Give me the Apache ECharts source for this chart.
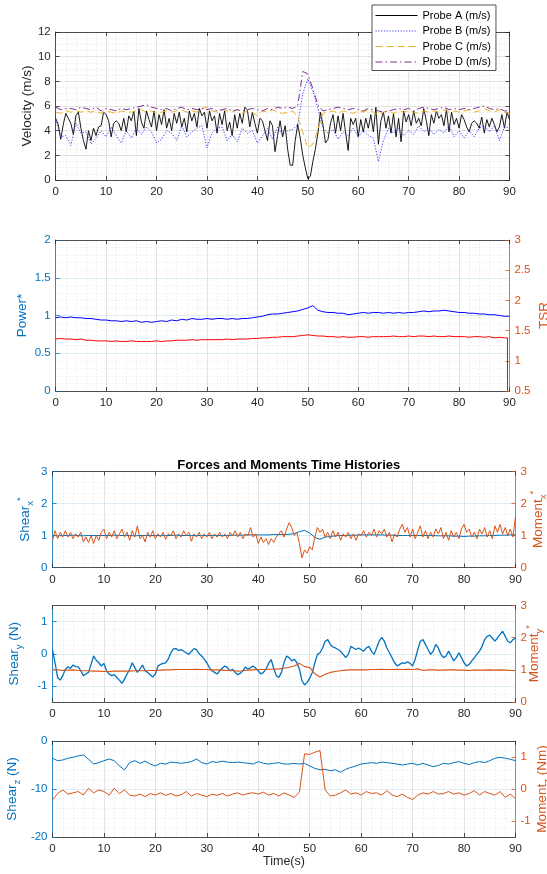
<!DOCTYPE html>
<html><head><meta charset="utf-8">
<script src="https://cdn.jsdelivr.net/npm/echarts@6/dist/echarts.min.js"></script>
<style>html,body{margin:0;padding:0;background:#fff}#c{width:547px;height:874px}</style>
</head><body><div id="c"></div>
<script>
// ---------- DATA ----------
const xTicks = [0,10,20,30,40,50,60,70,80,90];
const legendNames = ['Probe A (m/s)','Probe B (m/s)','Probe C (m/s)','Probe D (m/s)'];
// Probe A, every 0.5 s from 0 to 90
const probeA = [5.0,4.5,3.3,4.5,5.4,5.0,4.6,3.7,5.2,5.5,4.2,3.2,2.5,4.0,3.2,4.2,3.6,4.3,4.4,5.5,
 5.3,4.8,3.5,4.6,4.8,4.6,4.0,5.0,3.9,5.2,4.8,5.6,3.6,5.8,4.7,4.2,5.6,4.9,4.3,5.6,
 4.0,5.3,4.5,5.7,4.2,5.0,4.0,5.4,4.6,5.5,4.3,5.0,3.9,5.6,4.8,5.4,4.3,5.8,5.2,5.5,
 4.2,5.6,4.8,5.2,3.8,5.4,4.5,5.6,4.0,4.7,3.6,5.3,4.2,5.4,4.6,5.9,5.7,4.3,5.5,4.6,
 3.8,5.0,4.8,4.0,3.2,4.8,4.4,2.3,3.6,4.8,3.5,4.4,2.5,1.2,1.2,3.2,4.5,3.4,2.0,1.0,
 0.1,0.3,1.5,2.5,3.8,5.5,4.5,3.0,3.3,4.6,5.3,3.8,5.2,4.0,5.4,3.8,2.4,5.0,4.5,5.0,
 3.5,4.9,3.9,5.0,4.2,5.3,3.9,5.9,2.9,4.8,5.5,4.2,5.2,3.8,5.4,3.5,5.0,3.1,5.6,4.7,
 5.3,4.4,5.6,4.6,5.0,4.4,5.8,4.8,3.6,5.3,4.6,5.6,5.0,5.3,4.4,5.7,3.9,5.5,4.5,5.0,
 4.2,5.3,4.9,4.3,3.9,4.6,4.8,4.6,4.2,5.1,3.8,4.9,4.3,5.0,4.5,3.9,4.3,5.3,4.2,5.5,
 4.9];
// Probes B, C, D every 1 s
const probeB = [4.9,3.5,3.6,2.8,4.6,3.8,3.9,2.9,3.4,4.0,
 3.5,4.3,3.6,3.0,4.0,3.4,4.2,3.7,4.3,3.9,
 3.0,3.3,4.0,3.8,3.2,4.4,3.5,3.9,4.2,4.4,
 2.6,3.8,4.2,4.3,3.2,3.7,3.1,4.2,3.8,4.0,
 3.0,3.6,4.2,3.3,4.3,3.6,4.0,4.1,4.5,7.0,
 8.2,7.2,5.8,4.2,3.8,4.1,3.3,3.9,3.6,4.2,
 3.5,4.0,3.6,3.4,1.5,3.2,4.2,3.8,4.2,3.6,
 4.0,3.7,4.4,3.9,4.2,3.7,4.1,3.8,4.4,3.5,
 4.0,3.4,4.0,3.5,4.2,4.4,3.9,4.4,3.2,4.3,
 4.2];
const probeC = [5.5,5.4,5.6,5.5,5.6,5.5,5.6,5.5,5.6,5.4,
 5.6,5.5,5.4,5.6,5.5,5.5,5.6,5.7,5.5,5.6,
 5.4,5.5,5.6,5.5,5.6,5.7,5.5,5.6,5.5,5.8,
 5.9,5.6,5.5,5.7,5.6,5.5,5.7,5.4,5.6,5.5,
 5.2,5.6,5.5,5.7,5.5,5.4,5.5,5.6,5.1,3.9,
 2.6,2.9,4.1,5.4,5.5,5.6,5.4,5.6,5.5,5.4,
 5.6,5.5,5.7,5.5,5.3,5.5,5.6,5.4,5.6,5.5,
 5.6,5.5,5.4,5.6,5.5,5.6,5.5,5.7,5.5,5.6,
 5.5,5.6,5.7,5.5,5.6,5.8,5.6,5.5,5.7,5.5,
 5.4];
const probeD = [5.9,5.7,5.8,5.8,5.7,5.9,5.8,5.7,5.9,5.6,
 5.8,5.7,5.6,5.8,5.7,5.8,5.9,6.0,6.1,5.9,
 5.8,5.7,5.8,5.6,5.8,5.9,5.7,5.8,5.7,5.8,
 5.7,5.8,5.6,5.7,5.8,5.6,5.7,5.6,5.7,5.8,
 5.7,5.6,5.8,5.7,5.9,5.8,5.9,5.8,6.0,8.8,
 8.6,7.4,6.1,5.6,5.7,5.8,5.9,5.8,5.7,5.8,
 5.7,5.6,5.8,5.7,5.6,5.5,5.6,5.7,5.8,5.7,
 5.8,5.6,5.8,5.9,5.8,5.7,5.8,5.9,5.7,5.8,
 5.7,5.8,5.7,5.8,5.9,6.0,5.8,5.7,5.8,5.6,
 5.6];
// Power* and TSR, every 1 s
const power = [0.97,0.98,0.97,0.98,0.97,0.97,0.96,0.96,0.95,0.94,
 0.94,0.93,0.93,0.92,0.93,0.92,0.93,0.91,0.92,0.91,
 0.92,0.93,0.92,0.94,0.93,0.95,0.94,0.96,0.95,0.95,
 0.96,0.95,0.96,0.96,0.95,0.96,0.95,0.96,0.96,0.97,
 0.98,0.99,1.01,1.02,1.02,1.03,1.04,1.05,1.06,1.08,
 1.10,1.13,1.07,1.05,1.04,1.04,1.03,1.03,1.01,1.02,
 1.03,1.04,1.03,1.04,1.04,1.03,1.04,1.03,1.04,1.03,
 1.04,1.04,1.05,1.06,1.05,1.06,1.06,1.07,1.06,1.05,
 1.04,1.04,1.03,1.03,1.02,1.02,1.01,1.01,1.00,0.99,
 0.99];
const tsr = [1.36,1.37,1.36,1.36,1.35,1.36,1.34,1.34,1.33,1.33,
 1.33,1.32,1.33,1.32,1.32,1.33,1.32,1.32,1.32,1.32,
 1.33,1.32,1.33,1.33,1.34,1.34,1.34,1.35,1.34,1.35,
 1.35,1.35,1.35,1.35,1.36,1.35,1.36,1.36,1.36,1.37,
 1.37,1.38,1.38,1.39,1.39,1.40,1.40,1.40,1.41,1.42,
 1.43,1.42,1.41,1.41,1.40,1.40,1.39,1.40,1.39,1.39,
 1.40,1.40,1.39,1.40,1.40,1.40,1.40,1.41,1.40,1.40,
 1.41,1.40,1.41,1.41,1.40,1.41,1.40,1.40,1.41,1.40,
 1.40,1.40,1.39,1.40,1.40,1.39,1.40,1.38,1.39,1.38];
const tsrEndTime = [89.6, 89.6];
const tsrEnd = [1.38, 0.5];
// Shear_x* (every 1 s) and Moment_x* (every 0.5 s)
const shearX = [1.0,0.99,1.0,1.0,1.01,1.0,0.99,1.0,1.0,1.0,
 1.0,1.0,1.01,1.0,1.0,1.0,0.99,1.0,1.0,1.0,
 1.0,1.0,1.0,1.0,1.01,1.0,1.0,1.0,1.0,1.0,
 1.0,1.0,1.0,1.0,1.0,1.01,1.01,1.01,1.02,1.02,
 1.02,1.02,1.02,1.03,1.03,1.03,1.04,1.06,1.12,1.16,
 1.08,0.94,0.88,0.95,0.97,0.99,1.0,1.0,1.01,1.01,
 1.02,1.02,1.02,1.02,1.02,1.01,1.01,1.0,1.0,1.0,
 1.0,1.0,1.0,1.0,1.0,0.99,0.99,0.99,0.98,0.98,
 0.97,0.98,0.98,0.99,0.99,1.0,1.0,1.01,1.01,1.02,
 1.02];
const momentX = [0.85,1.15,0.9,1.1,0.95,1.15,0.95,1.1,0.9,1.05,0.95,1.1,0.8,0.95,0.78,1.0,0.75,1.0,0.85,1.1,
 1.2,0.9,1.1,0.95,1.15,0.9,1.05,1.2,0.95,1.1,0.85,1.15,0.95,1.3,0.9,1.0,0.8,1.1,0.95,1.15,
 0.9,1.05,0.95,1.1,0.88,1.05,1.0,1.15,0.9,1.05,0.95,1.15,1.0,1.1,0.82,1.05,0.95,1.1,0.9,1.05,
 0.95,1.1,0.9,1.05,0.95,1.1,0.95,1.05,0.9,1.1,1.0,1.15,0.95,1.1,0.9,1.05,1.0,1.25,0.95,1.05,
 0.75,0.95,0.78,0.9,0.72,0.9,0.78,0.95,1.05,1.15,0.95,1.2,1.4,1.25,1.0,1.1,0.75,0.3,0.55,0.45,
 0.65,0.55,0.95,1.25,1.1,1.2,0.95,1.1,0.9,1.15,0.95,1.1,0.85,1.05,0.95,1.1,0.9,1.05,0.85,1.05,
 1.0,1.15,0.95,1.1,1.0,1.2,0.95,1.15,1.05,1.2,0.95,1.1,0.8,1.05,0.95,1.2,1.35,1.1,1.25,0.95,
 1.2,0.9,1.1,1.3,0.95,1.15,0.9,1.1,0.95,1.2,1.05,1.25,0.9,1.1,0.85,1.15,0.95,1.1,0.9,1.2,
 1.35,1.1,1.2,0.95,1.1,0.9,1.2,1.05,1.25,0.95,1.15,0.9,1.3,1.1,1.35,1.05,1.25,1.0,1.2,0.95,
 1.6];
// Shear_y (N) every 0.5 s, Moment_y* every 1 s
const shearY = [0.13,-0.28,-0.74,-0.82,-0.68,-0.48,-0.41,-0.45,-0.35,-0.4,-0.41,-0.53,-0.68,-0.63,-0.58,-0.33,-0.07,-0.2,-0.28,-0.38,
 -0.3,-0.53,-0.63,-0.68,-0.65,-0.74,-0.82,-0.92,-0.79,-0.63,-0.48,-0.28,-0.43,-0.58,-0.48,-0.35,-0.53,-0.58,-0.65,-0.72,
 -0.63,-0.38,-0.33,-0.3,-0.28,-0.17,0.03,0.15,0.16,0.1,0.13,0.08,0.03,-0.02,0.08,0.16,0.13,0,-0.07,-0.17,
 -0.28,-0.43,-0.53,-0.58,-0.63,-0.53,-0.45,-0.38,-0.43,-0.53,-0.48,-0.58,-0.65,-0.61,-0.53,-0.41,-0.48,-0.43,-0.38,-0.45,
 -0.53,-0.63,-0.58,-0.48,-0.3,-0.18,-0.45,-0.68,-0.74,-0.58,-0.28,-0.07,-0.12,-0.22,-0.17,-0.28,-0.48,-0.84,-0.97,-0.89,
 -0.76,-0.58,-0.28,-0.02,0.03,0.18,0.39,0.44,0.29,0.21,0.18,0.13,0.08,-0.02,-0.12,-0.02,0.23,0.18,0.13,0.18,
 0.13,0.08,0.18,0.23,0.08,-0.02,0.18,0.39,0.51,0.39,0.18,0.03,-0.12,-0.28,-0.38,-0.33,-0.28,-0.3,-0.25,-0.3,
 -0.38,-0.17,0.13,0.39,0.44,0.29,0.13,-0.02,0.08,0.29,0.18,-0.02,-0.12,-0.07,0.08,-0.07,-0.22,-0.12,0.03,-0.12,
 -0.28,-0.38,-0.33,-0.22,-0.12,-0.02,0.08,0.23,0.44,0.54,0.58,0.49,0.39,0.49,0.6,0.7,0.54,0.39,0.34,0.44,
 0.49];
const momentY = [1.0,1.0,0.98,0.99,1.0,0.98,0.97,0.97,0.96,0.96,
 0.95,0.95,0.96,0.96,0.96,0.96,0.97,0.97,0.97,0.98,
 0.98,0.99,1.0,1.0,1.01,1.01,1.01,1.01,1.02,1.01,
 1.01,1.0,1.0,0.99,0.98,0.97,0.96,0.97,0.99,1.0,
 1.01,1.01,1.02,1.02,1.03,1.05,1.08,1.12,1.2,1.1,
 1.07,0.88,0.78,0.86,0.92,0.95,0.97,0.99,1.0,1.0,
 1.0,1.0,1.01,1.01,1.02,1.01,1.01,1.02,1.01,1.02,
 1.01,1.03,0.98,1.0,1.0,0.99,0.99,1.0,1.0,0.99,
 0.99,0.98,0.99,0.99,0.99,1.0,0.99,1.0,0.99,0.98,
 0.98];
// Shear_z (N) and Moment_z (Nm), every 1 s
const shearZ = [-3.6,-4.1,-3.95,-3.6,-3.4,-3.1,-2.9,-3.8,-4.8,-4.5,
 -4.1,-3.75,-4.1,-5.2,-6.0,-4.5,-4.1,-4.65,-4.2,-4.8,
 -5.2,-4.65,-4.8,-4.4,-4.5,-4.65,-4.5,-4.3,-3.75,-4.5,
 -4.8,-4.3,-4.45,-4.2,-4.4,-4.5,-4.4,-4.5,-4.65,-4.8,
 -4.3,-4.65,-4.8,-4.65,-4.5,-4.8,-4.8,-4.65,-4.8,-4.65,
 -5.2,-5.7,-6.0,-5.9,-6.2,-6.0,-6.5,-5.9,-5.5,-5.2,
 -4.8,-4.65,-4.5,-4.65,-4.4,-4.5,-4.65,-4.8,-5.0,-4.8,
 -4.65,-5.0,-4.65,-5.0,-5.35,-5.1,-4.65,-4.8,-4.5,-4.3,
 -4.65,-4.9,-4.5,-4.3,-4.5,-4.1,-3.6,-3.4,-3.6,-3.8,
 -4.1];
const momentZ = [-0.35,-0.14,-0.03,-0.16,-0.12,-0.08,-0.19,0.02,-0.12,-0.03,
 -0.08,-0.19,0.02,-0.14,-0.03,-0.19,-0.22,-0.16,-0.24,-0.14,
 -0.19,-0.12,-0.2,-0.14,-0.22,-0.18,-0.08,-0.22,-0.14,-0.19,
 -0.24,-0.16,-0.2,-0.14,-0.22,-0.16,-0.12,-0.19,-0.14,-0.12,
 -0.16,-0.1,-0.19,-0.14,-0.22,-0.12,-0.19,-0.26,-0.1,1.1,
 1.08,1.15,1.2,-0.03,-0.22,-0.19,-0.12,-0.03,-0.16,-0.12,
 -0.19,-0.08,-0.14,-0.12,-0.19,-0.05,-0.19,-0.24,-0.16,-0.26,
 -0.33,-0.19,-0.12,-0.16,-0.08,-0.16,-0.14,-0.08,-0.16,-0.12,
 -0.19,-0.14,-0.05,-0.19,-0.08,-0.14,-0.19,-0.08,-0.26,-0.16,
 -0.3];
const tickLR = [-1, 0, 1];

// ---------- HELPERS ----------
const FONT = 'Liberation Sans, Arial, Helvetica, sans-serif';
const INK = '#262626', BLUE = '#0072BD', ORANGE = '#D95319';
const LBLUE_GRID = 'rgba(0,114,189,0.16)', LBLUE_MINOR = 'rgba(0,114,189,0.12)';
const GRAY_GRID = 'rgba(38,38,38,0.16)', GRAY_MINOR = 'rgba(38,38,38,0.12)';
const TICK_FS = 11.5, NAME_FS = 13.5;
function seq(step, vals) { return vals.map((v, i) => [i * step, v]); }
function pairs(ts, vs) { return ts.map((t, i) => [t, vs[i]]); }

function xAxes(g, xname) {
  const bottom = {
    type: 'value', gridIndex: g, min: 0, max: 90, interval: 10, position: 'bottom',
    axisLine: { show: true, onZero: false, lineStyle: { color: INK, width: 0.8 } },
    axisTick: { show: true, inside: true, length: 4, lineStyle: { color: INK, width: 0.8 } },
    axisLabel: { color: INK, fontSize: TICK_FS, fontFamily: FONT, margin: 6,
                 formatter: v => xTicks.indexOf(v) >= 0 ? String(v) : '' },
    splitLine: { show: true, lineStyle: { color: GRAY_GRID, width: 0.8 } },
    minorTick: { show: false, splitNumber: 5 },
    minorSplitLine: { show: true, lineStyle: { color: GRAY_MINOR, width: 0.8, type: [1.5, 2] } }
  };
  if (xname) {
    bottom.name = xname; bottom.nameLocation = 'middle'; bottom.nameGap = 18; bottom.nameMoveOverlap = false;
    bottom.nameTextStyle = { color: INK, fontSize: 12.5, fontFamily: FONT };
  }
  const top = {
    type: 'value', gridIndex: g, min: 0, max: 90, interval: 10, position: 'top',
    axisLine: { show: true, onZero: false, lineStyle: { color: INK, width: 0.8 } },
    axisTick: { show: true, inside: true, length: 4, lineStyle: { color: INK, width: 0.8 } },
    axisLabel: { show: false }, splitLine: { show: false }
  };
  return [bottom, top];
}
function richFor(color) {
  return {
    m: { fontSize: NAME_FS, fontFamily: FONT, color: color, lineHeight: 20 },
    sub: { fontSize: 9.5, fontFamily: FONT, color: color, verticalAlign: 'bottom', lineHeight: 10 },
    sup: { fontSize: 9.5, fontFamily: FONT, color: color, verticalAlign: 'top', lineHeight: 10 }
  };
}
function yAx(o) {
  const c = o.color;
  const a = {
    type: 'value', gridIndex: o.g, position: o.pos, min: o.min, max: o.max, interval: o.interval,
    axisLine: { show: true, onZero: false, lineStyle: { color: c, width: 0.8 } },
    axisTick: { show: true, inside: true, length: 4, lineStyle: { color: c, width: 0.8 } },
    axisLabel: { show: o.labels !== false, color: c, fontSize: TICK_FS, fontFamily: FONT, margin: 5 },
    splitLine: { show: !!o.grid, lineStyle: { color: o.grid || INK, width: 0.8 } },
    minorTick: { show: false, splitNumber: o.minor || 5 },
    minorSplitLine: { show: !!o.minorColor, lineStyle: { color: o.minorColor || INK, width: 0.8, type: [1.5, 2] } }
  };
  if (o.ticks) { a.axisTick.customValues = o.ticks; a.axisLabel.customValues = o.ticks; }
  if (o.name) {
    a.name = o.name; a.nameLocation = 'middle'; a.nameGap = o.gap; a.nameMoveOverlap = false;
    a.nameTextStyle = { color: c, fontSize: NAME_FS, fontFamily: FONT, rich: richFor(c) };
  }
  return a;
}
function line(xi, yi, data, color, width, type, name) {
  return { type: 'line', name: name, xAxisIndex: xi, yAxisIndex: yi, data: data, symbol: 'none',
           showSymbol: false, lineStyle: { color: color, width: width, type: type || 'solid' },
           itemStyle: { color: color }, emphasis: { disabled: true } };
}

const option = {
  animation: false,
  backgroundColor: '#fff',
  textStyle: { fontFamily: FONT },
  title: { text: 'Forces and Moments Time Histories', left: 283.75, top: 454, textAlign: 'center',
           textStyle: { fontSize: 13, fontWeight: 'bold', color: '#000', fontFamily: FONT } },
  legend: {
    data: legendNames, orient: 'vertical', left: 372, top: 5,
    padding: [4, 5, 2, 3], itemWidth: 42, itemHeight: 8, itemGap: 2.5,
    backgroundColor: '#fff', borderColor: INK, borderWidth: 0.8,
    textStyle: { fontSize: 11, fontFamily: FONT, color: '#000', lineHeight: 13 },
    itemStyle: { opacity: 0, borderWidth: 0 },
    lineStyle: { width: 1, opacity: 1 }, selectedMode: false
  },
  grid: [
    { left: 55.7, right: 37.5, top: 32, height: 148, outerBoundsMode: 'none' },
    { left: 55.7, right: 37.5, top: 240, height: 151, outerBoundsMode: 'none' },
    { left: 52.5, right: 31.5, top: 471.5, height: 96, outerBoundsMode: 'none' },
    { left: 52.5, right: 31.5, top: 605.5, height: 96.5, outerBoundsMode: 'none' },
    { left: 52.5, right: 31.5, top: 741, height: 96, outerBoundsMode: 'none' }
  ],
  xAxis: [].concat(xAxes(0), xAxes(1), xAxes(2), xAxes(3), xAxes(4, 'Time(s)')),
  yAxis: [
    yAx({ g: 0, pos: 'left', min: 0, max: 12, interval: 2, color: INK, grid: GRAY_GRID, minor: 4, minorColor: GRAY_MINOR,
          name: 'Velocity (m/s)', gap: 21 }),
    yAx({ g: 0, pos: 'right', min: 0, max: 12, interval: 2, color: INK, labels: false }),
    yAx({ g: 1, pos: 'left', min: 0, max: 2, interval: 0.5, color: BLUE, grid: LBLUE_GRID, minor: 5, minorColor: LBLUE_MINOR,
          name: 'Power*', gap: 26.5 }),
    yAx({ g: 1, pos: 'right', min: 0.5, max: 3, interval: 0.5, color: ORANGE, name: 'TSR', gap: 27.5 }),
    yAx({ g: 2, pos: 'left', min: 0, max: 3, interval: 1, color: BLUE, grid: LBLUE_GRID, minor: 3, minorColor: LBLUE_MINOR,
          name: '{m|Shear}{sub|x}{sup|*}', gap: 17 }),
    yAx({ g: 2, pos: 'right', min: 0, max: 3, interval: 1, color: ORANGE, name: '{m|Moment}{sub|x}{sup|*}', gap: 12.5 }),
    yAx({ g: 3, pos: 'left', min: -1.5, max: 1.5, interval: 0.5, ticks: tickLR, color: BLUE, grid: LBLUE_GRID, minor: 2, minorColor: LBLUE_MINOR,
          name: '{m|Shear}{sub|y}{m| (N)}', gap: 28.5 }),
    yAx({ g: 3, pos: 'right', min: 0, max: 3, interval: 1, color: ORANGE, name: '{m|Moment}{sub|y}{sup|*}', gap: 8.5 }),
    yAx({ g: 4, pos: 'left', min: -20, max: 0, interval: 10, color: BLUE, grid: LBLUE_GRID, minor: 5, minorColor: LBLUE_MINOR,
          name: '{m|Shear}{sub|z}{m| (N)}', gap: 30.5 }),
    yAx({ g: 4, pos: 'right', min: -1.5, max: 1.5, interval: 0.5, ticks: tickLR, color: ORANGE, name: '{m|Moment}{sub|z}{m| (Nm)}', gap: 16.5 })
  ],
  series: [
    line(0, 0, seq(0.5, probeA), '#000000', 0.9, 'solid', legendNames[0]),
    line(0, 0, seq(1, probeB), '#3d3dff', 1, [1.2, 1.6], legendNames[1]),
    line(0, 0, seq(1, probeC), '#EDB120', 1, [7, 4], legendNames[2]),
    line(0, 0, seq(1, probeD), '#7E2F8E', 1, [7, 3, 1.5, 3], legendNames[3]),
    line(2, 2, seq(1, power), '#0000FF', 1, 'solid'),
    line(2, 3, seq(1, tsr).concat(pairs(tsrEndTime, tsrEnd)), '#FF0000', 1, 'solid'),
    line(4, 4, seq(1, shearX), BLUE, 1, 'solid'),
    line(4, 5, seq(0.5, momentX), ORANGE, 1, 'solid'),
    line(6, 6, seq(0.5, shearY), BLUE, 1.3, 'solid'),
    line(6, 7, seq(1, momentY), ORANGE, 1.1, 'solid'),
    line(8, 8, seq(1, shearZ), BLUE, 1, 'solid'),
    line(8, 9, seq(1, momentZ), ORANGE, 1, 'solid')
  ]
};
const chart = echarts.init(document.getElementById('c'), null, { renderer: 'canvas' });
chart.setOption(option);
</script>
</body></html>
